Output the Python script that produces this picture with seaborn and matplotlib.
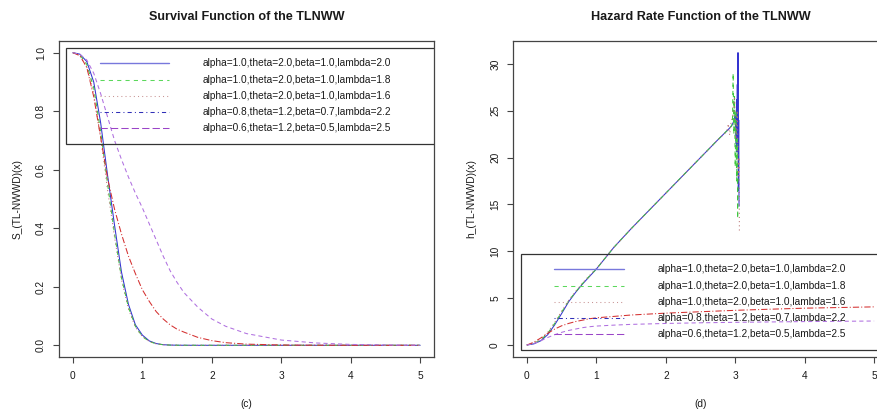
import matplotlib
matplotlib.use("Agg")
import matplotlib.pyplot as plt
from matplotlib.lines import Line2D
from matplotlib.patches import Rectangle
import seaborn as sns

# ---- parameter sets ----
labels = [
    "alpha=1.0,theta=2.0,beta=1.0,lambda=2.0",
    "alpha=1.0,theta=2.0,beta=1.0,lambda=1.8",
    "alpha=1.0,theta=2.0,beta=1.0,lambda=1.6",
    "alpha=0.8,theta=1.2,beta=0.7,lambda=2.2",
    "alpha=0.6,theta=1.2,beta=0.5,lambda=2.5",
]

# ---- survival function values ----
s_x = [0, 0.1, 0.2, 0.3, 0.4, 0.5, 0.6, 0.7, 0.8, 0.9, 1.0, 1.1, 1.2, 1.3,
       1.4, 1.5, 1.6, 1.8, 2.0, 2.2, 2.5, 3.0, 3.5, 4.0, 4.5, 5.0]
s_1 = [1.0, 0.995, 0.97, 0.90, 0.76, 0.58, 0.41, 0.25, 0.14, 0.07, 0.035,
       0.015, 0.006, 0.002, 0.0008, 0.0003, 0.0001, 0, 0, 0, 0, 0, 0, 0, 0, 0]
s_2 = [1.0, 0.993, 0.96, 0.88, 0.73, 0.55, 0.38, 0.23, 0.13, 0.065, 0.03,
       0.013, 0.005, 0.002, 0.0007, 0.0002, 0.0001, 0, 0, 0, 0, 0, 0, 0, 0, 0]
s_3 = [1.0, 0.99, 0.95, 0.86, 0.71, 0.53, 0.37, 0.225, 0.125, 0.062, 0.03,
       0.013, 0.005, 0.002, 0.0007, 0.0002, 0.0001, 0, 0, 0, 0, 0, 0, 0, 0, 0]
s_4 = [1.0, 0.99, 0.95, 0.85, 0.71, 0.57, 0.465, 0.38, 0.305, 0.245, 0.19,
       0.15, 0.115, 0.09, 0.07, 0.055, 0.045, 0.027, 0.016, 0.009, 0.004,
       0.001, 0.0003, 0.0001, 0, 0]
s_5 = [1.0, 0.995, 0.975, 0.93, 0.86, 0.78, 0.70, 0.635, 0.575, 0.52, 0.47,
       0.415, 0.36, 0.305, 0.255, 0.215, 0.18, 0.13, 0.09, 0.065, 0.04,
       0.018, 0.008, 0.003, 0.001, 0.0]

# ---- hazard rate values ----
h_x1 = [0, 0.1, 0.2, 0.3, 0.4, 0.5, 0.6, 0.7, 0.8, 0.9, 1.0, 1.25, 1.5, 1.75,
        2.0, 2.25, 2.5, 2.75, 2.9, 2.95, 2.98, 3.0, 3.01, 3.02, 3.025, 3.03,
        3.035, 3.04, 3.045, 3.05, 3.055]
h_1 = [0, 0.12, 0.45, 1.1, 2.15, 3.35, 4.6, 5.6, 6.5, 7.3, 8.1, 10.4, 12.4,
       14.3, 16.2, 18.1, 20.0, 21.9, 23.0, 23.4, 23.9, 24.6, 21.5, 26.2, 20.6,
       27.8, 22.0, 31.2, 16.5, 24.0, 14.8]
h_x2 = [0, 0.1, 0.2, 0.3, 0.4, 0.5, 0.6, 0.7, 0.8, 0.9, 1.0, 1.25, 1.5, 1.75,
        2.0, 2.25, 2.5, 2.75, 2.9, 2.93, 2.96, 2.97, 2.98, 2.99, 3.0, 3.01,
        3.02, 3.03, 3.035, 3.04]
h_2 = [0, 0.18, 0.55, 1.25, 2.3, 3.5, 4.7, 5.65, 6.55, 7.35, 8.1, 10.4, 12.4,
       14.3, 16.2, 18.1, 20.0, 21.9, 23.0, 23.2, 23.6, 29.0, 22.5, 26.5, 19.0,
       25.0, 17.5, 22.0, 13.5, 18.0]
h_x3 = [0, 0.1, 0.2, 0.3, 0.4, 0.5, 0.6, 0.7, 0.8, 0.9, 1.0, 1.25, 1.5, 1.75,
        2.0, 2.25, 2.5, 2.75, 2.88, 2.9, 2.92, 2.94, 2.96, 2.99, 3.01, 3.03,
        3.045, 3.055, 3.06]
h_3 = [0, 0.22, 0.62, 1.35, 2.4, 3.6, 4.75, 5.7, 6.6, 7.4, 8.15, 10.4, 12.4,
       14.3, 16.2, 18.1, 20.0, 21.9, 22.8, 23.6, 22.4, 23.8, 24.3, 26.5, 22.0,
       25.0, 18.0, 20.0, 12.0]
h_x45 = [0, 0.1, 0.2, 0.3, 0.4, 0.5, 0.6, 0.7, 0.8, 0.9, 1.0, 1.25, 1.5, 1.75,
         2.0, 2.5, 3.0, 3.5, 4.0, 4.5, 5.0]
h_4 = [0, 0.3, 0.75, 1.25, 1.7, 2.05, 2.3, 2.5, 2.65, 2.8, 2.9, 3.05, 3.2,
       3.3, 3.4, 3.55, 3.7, 3.82, 3.93, 4.0, 4.07]
h_5 = [0, 0.15, 0.45, 0.8, 1.1, 1.35, 1.55, 1.7, 1.85, 1.95, 2.02, 2.12, 2.2,
       2.25, 2.3, 2.37, 2.42, 2.46, 2.5, 2.53, 2.56]

# ---- styles ----
curve_colors = ["#3434d0", "#3fc63f", "#b87070", "#d43030", "#b070e0"]
legend_colors = ["#7878dc", "#5cd85c", "#c89494", "#3030b8", "#9a44c8"]
styles = ["-", (0, (4, 4)), (0, (1, 3)), (0, (1, 3, 4, 3)), (0, (7, 3))]
curve_styles = ["-", (0, (4, 4)), (0, (1, 3)), (0, (6, 2, 1, 2)), (0, (4, 3))]

sns.set_style("white")
plt.rcParams["font.family"] = ["Liberation Sans", "DejaVu Sans"]
plt.rcParams["text.color"] = "#1a1a1a"
plt.rcParams["axes.labelcolor"] = "#1a1a1a"
plt.rcParams["xtick.color"] = "#444444"
plt.rcParams["ytick.color"] = "#444444"
plt.rcParams["xtick.labelcolor"] = "#1a1a1a"
plt.rcParams["ytick.labelcolor"] = "#1a1a1a"

fig = plt.figure(figsize=(8.78, 4.12), dpi=100)
ax1 = fig.add_axes([59 / 878, 55 / 412, 375 / 878, 316 / 412])
ax2 = fig.add_axes([513 / 878, 55 / 412, 375 / 878, 316 / 412])

LW = 0.75
FS = 7.3


def style_axes(ax, title, ylabel, xlabel, ylim, yticks):
    ax.set_xlim(-0.2, 5.2)
    ax.set_ylim(*ylim)
    ax.set_xticks([0, 1, 2, 3, 4, 5])
    ax.set_yticks(yticks)
    ax.set_xticklabels([str(t) for t in [0, 1, 2, 3, 4, 5]], fontsize=FS)
    ax.set_yticklabels([str(t) for t in yticks], fontsize=FS,
                       rotation=90, va="center")
    ax.tick_params(axis="both", direction="out", length=4.3, width=0.8,
                   bottom=True, left=True)
    ax.tick_params(axis="x", pad=6)
    ax.tick_params(axis="y", pad=5)
    for sp in ax.spines.values():
        sp.set_color("#444444")
        sp.set_linewidth(0.9)
    ax.set_title(title, fontsize=9.1, fontweight="bold", pad=15)
    ax.set_ylabel(ylabel, fontsize=FS, labelpad=10)
    ax.set_xlabel(xlabel, fontsize=FS, labelpad=13)


def draw_legend(ax, box, line_x, text_x, rows):
    x0, y0, y1 = box
    ax.add_patch(Rectangle((x0, y0), 1.2 - x0, y1 - y0,
                           transform=ax.transAxes, fill=False,
                           edgecolor="#333333", linewidth=0.9,
                           clip_on=True, zorder=5))
    for i, yy in enumerate(rows):
        ax.add_line(Line2D(line_x, [yy, yy], transform=ax.transAxes,
                           color=legend_colors[i], linestyle=styles[i],
                           linewidth=1.0 if i == 0 else LW, zorder=5))
        ax.text(text_x, yy, labels[i], transform=ax.transAxes, fontsize=FS,
                ha="left", va="center", zorder=6)


# ---- survival panel ----
for s, c, ls in zip([s_1, s_2, s_3, s_4, s_5], curve_colors, curve_styles):
    sns.lineplot(x=s_x, y=s, ax=ax1, color=c, linestyle=ls, linewidth=LW,
                 estimator=None, sort=False)
style_axes(ax1, "Survival Function of the TLNWW", "S_(TL-NWWD)(x)", "(c)",
           (-0.04, 1.04), [0.0, 0.2, 0.4, 0.6, 0.8, 1.0])
draw_legend(ax1, (7 / 375, 213 / 316, 309 / 316), [0.109, 0.293], 0.384,
            [0.930, 0.877, 0.826, 0.775, 0.725])

# ---- hazard panel ----
hz = [(h_x1, h_1), (h_x2, h_2), (h_x3, h_3), (h_x45, h_4), (h_x45, h_5)]
for (hx, hy), c, ls in zip(hz, curve_colors, curve_styles):
    sns.lineplot(x=hx, y=hy, ax=ax2, color=c, linestyle=ls, linewidth=LW,
                 estimator=None, sort=False)
style_axes(ax2, "Hazard Rate Function of the TLNWW", "h_(TL-NWWD)(x)", "(d)",
           (-1.28, 32.44), [0, 5, 10, 15, 20, 25, 30])
draw_legend(ax2, (8 / 375, 7 / 316, 103 / 316), [0.109, 0.296], 0.387,
            [0.278, 0.225, 0.174, 0.123, 0.073])

fig.savefig("out.png", dpi=100)
